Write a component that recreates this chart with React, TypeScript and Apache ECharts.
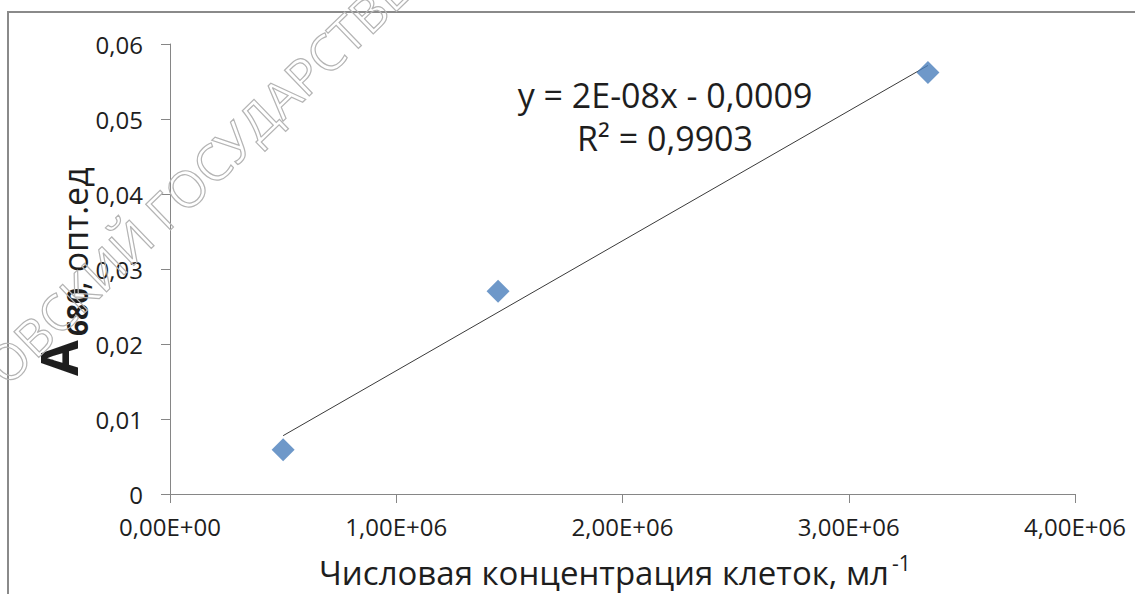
import React, { useEffect, useRef } from "react";
import * as echarts from "echarts";

// Measured cell concentration (cells per ml) and optical density at 680 nm
const concentration = [5.0e5, 1.45e6, 3.35e6];
const absorbance = [0.0059, 0.02705, 0.0562];

// Axis scale settings
const xMin = 0;
const xMax = 4e6;
const xStep = 1e6;
const yMin = 0;
const yMax = 0.06;
const yStep = 0.01;

const xTitle = "Числовая концентрация клеток, мл";
const xTitleSup = "-1";
const watermark = "ОВСКИЙ ГОСУДАРСТВЕННЫЙ";

const FONT = "'Open Sans', 'Noto Sans', sans-serif";

// Ordinary least squares fit y = a*x + b
function linearFit(xs: number[], ys: number[]) {
  const n = xs.length;
  const mx = xs.reduce((s, v) => s + v, 0) / n;
  const my = ys.reduce((s, v) => s + v, 0) / n;
  let sxy = 0, sxx = 0, syy = 0;
  for (let i = 0; i < n; i++) {
    sxy += (xs[i] - mx) * (ys[i] - my);
    sxx += (xs[i] - mx) ** 2;
    syy += (ys[i] - my) ** 2;
  }
  const a = sxy / sxx;
  const b = my - a * mx;
  const r2 = (sxy * sxy) / (sxx * syy);
  return { a, b, r2 };
}

const comma = (s: string) => s.replace(".", ",");

// Excel-like scientific notation: 1,00E+06
function sci(v: number, digits: number) {
  if (v === 0) return "0," + "0".repeat(digits) + "E+00";
  const e = Math.floor(Math.log10(Math.abs(v)));
  const m = v / Math.pow(10, e);
  const sign = e < 0 ? "-" : "+";
  const exp = String(Math.abs(e)).padStart(2, "0");
  return comma(m.toFixed(digits)) + "E" + sign + exp;
}

function sciShort(v: number) {
  const [m, e] = v.toExponential(0).split("e");
  const en = parseInt(e, 10);
  return m + "E" + (en < 0 ? "-" : "+") + String(Math.abs(en)).padStart(2, "0");
}

export default function App() {
  const ref = useRef<HTMLDivElement>(null);

  useEffect(() => {
    if (!ref.current) return;
    const chart = echarts.init(ref.current, undefined, { renderer: "svg" });

    const fit = linearFit(concentration, absorbance);
    const x0 = Math.min(...concentration);
    const x1 = Math.max(...concentration);
    const trend = [
      [x0, fit.a * x0 + fit.b],
      [x1, fit.a * x1 + fit.b],
    ];
    const eqLine =
      "y = " + sciShort(fit.a) + "x " + (fit.b < 0 ? "- " : "+ ") + comma(Math.abs(fit.b).toFixed(4));
    const r2Line = "R² = " + comma(fit.r2.toFixed(4));

    const axisColor = "#868686";
    const textColor = "#1e1e1e";

    chart.setOption({
      animation: false,
      backgroundColor: "#ffffff",
      grid: { left: 170, top: 44, right: 60, bottom: 100, containLabel: false },
      xAxis: {
        type: "value",
        min: xMin,
        max: xMax,
        interval: xStep,
        axisLine: { show: true, onZero: false, lineStyle: { color: axisColor, width: 1 } },
        axisTick: { show: true, length: 9, lineStyle: { color: axisColor, width: 1 } },
        splitLine: { show: false },
        axisLabel: {
          formatter: (v: number) => sci(v, 2),
          color: textColor,
          fontFamily: FONT,
          fontSize: 24,
          margin: 20,
        },
      },
      yAxis: {
        type: "value",
        min: yMin,
        max: yMax,
        interval: yStep,
        axisLine: { show: true, onZero: false, lineStyle: { color: axisColor, width: 1 } },
        axisTick: { show: true, length: 9, lineStyle: { color: axisColor, width: 1 } },
        splitLine: { show: false },
        axisLabel: {
          formatter: (v: number) => (v === 0 ? "0" : comma(v.toFixed(2))),
          color: textColor,
          fontFamily: FONT,
          fontSize: 24,
          margin: 27,
        },
      },
      series: [
        {
          type: "line",
          data: trend,
          symbol: "none",
          lineStyle: { color: "#3a3a3a", width: 1 },
          z: 2,
        },
        {
          type: "scatter",
          data: concentration.map((x, i) => [x, absorbance[i]]),
          symbol: "diamond",
          symbolSize: [23, 23],
          itemStyle: { color: "#4a7ebb" },
          z: 3,
        },
      ],
      graphic: [
        {
          type: "rect",
          shape: { x: 8, y: 12, width: 1300, height: 800 },
          style: { fill: "none", stroke: "#8a8a8a", lineWidth: 2 },
          silent: true,
          z: 1,
        },
        {
          type: "text",
          x: 665,
          y: 95,
          style: {
            text: eqLine,
            font: `34px ${FONT}`,
            fill: textColor,
            textAlign: "center",
            textVerticalAlign: "middle",
          },
        },
        {
          type: "text",
          x: 665,
          y: 138,
          style: {
            text: r2Line,
            font: `34px ${FONT}`,
            fill: textColor,
            textAlign: "center",
            textVerticalAlign: "middle",
          },
        },
        {
          type: "text",
          x: 889,
          y: 572,
          style: {
            text: xTitle,
            font: `33px ${FONT}`,
            fill: textColor,
            textAlign: "right",
            textVerticalAlign: "middle",
          },
        },
        {
          type: "text",
          x: 892,
          y: 563,
          style: {
            text: xTitleSup,
            font: `21px ${FONT}`,
            fill: textColor,
            textAlign: "left",
            textVerticalAlign: "middle",
          },
        },
        {
          type: "text",
          x: 57,
          y: 376,
          rotation: Math.PI / 2,
          style: {
            text: "A",
            font: `bold 52px ${FONT}`,
            fill: textColor,
            textAlign: "left",
            textVerticalAlign: "middle",
          },
        },
        {
          type: "text",
          x: 77,
          y: 336,
          rotation: Math.PI / 2,
          style: {
            text: "680",
            font: `bold 28px ${FONT}`,
            fill: textColor,
            textAlign: "left",
            textVerticalAlign: "middle",
          },
        },
        {
          type: "text",
          x: 75,
          y: 290,
          rotation: Math.PI / 2,
          style: {
            text: ", опт.ед",
            font: `34px ${FONT}`,
            fill: textColor,
            textAlign: "left",
            textVerticalAlign: "middle",
          },
        },
        {
          type: "text",
          x: -6,
          y: 374,
          rotation: (44 * Math.PI) / 180,
          silent: true,
          z: 100,
          style: {
            text: watermark,
            font: `50px ${FONT}`,
            fill: "none",
            stroke: "#b4b4b4",
            lineWidth: 1.2,
            textAlign: "left",
            textVerticalAlign: "middle",
          },
        },
      ],
    });

    return () => chart.dispose();
  }, []);

  return (
    <div
      ref={ref}
      style={{ position: "fixed", left: 0, top: 0, width: 1135, height: 594, background: "#fff" }}
    />
  );
}
